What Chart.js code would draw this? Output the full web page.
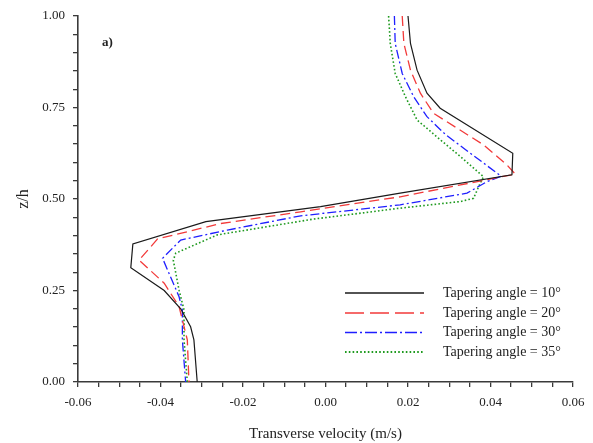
<!DOCTYPE html>
<html>
<head>
<meta charset="utf-8">
<script src="https://cdn.jsdelivr.net/npm/chart.js@4"></script>
<style>
  html, body { margin: 0; padding: 0; background: #fff; }
  #wrap { width: 593px; height: 443px; }
</style>
</head>
<body>
<div id="wrap"><canvas id="c" width="593" height="443"></canvas></div>
<script>
// Transverse velocity profiles over relative depth z/h for four tapering angles
const seriesNames = [
  'Tapering angle = 10°',
  'Tapering angle = 20°',
  'Tapering angle = 30°',
  'Tapering angle = 35°'
];

const z10 = [1.0, 0.925, 0.852, 0.789, 0.748, 0.625, 0.566, 0.516, 0.479, 0.438, 0.377, 0.312, 0.250, 0.200, 0.151, 0.115, 0.0];
const v10 = [0.0200, 0.0206, 0.0222, 0.0246, 0.0278, 0.0454, 0.0452, 0.0181, -0.0012, -0.0290, -0.0467, -0.0472, -0.0391, -0.0351, -0.0327, -0.0319, -0.0311];

const z20 = [1.0, 0.925, 0.852, 0.789, 0.734, 0.675, 0.648, 0.593, 0.568, 0.506, 0.465, 0.433, 0.391, 0.333, 0.270, 0.206, 0.115, 0.0];
const v20 = [0.0186, 0.0190, 0.0206, 0.0230, 0.0262, 0.0345, 0.0383, 0.0440, 0.0460, 0.0181, -0.0060, -0.0254, -0.0407, -0.0452, -0.0391, -0.0355, -0.0335, -0.0331];

const z30 = [1.0, 0.925, 0.843, 0.779, 0.725, 0.675, 0.562, 0.547, 0.516, 0.484, 0.454, 0.415, 0.388, 0.338, 0.233, 0.197, 0.115, 0.0];
const v30 = [0.0167, 0.0169, 0.0186, 0.0214, 0.0246, 0.0292, 0.0426, 0.0391, 0.0343, 0.0181, -0.0060, -0.0238, -0.0351, -0.0395, -0.0355, -0.0347, -0.0347, -0.0339];

const z35 = [1.0, 0.925, 0.843, 0.779, 0.716, 0.664, 0.616, 0.561, 0.543, 0.502, 0.493, 0.475, 0.452, 0.445, 0.402, 0.352, 0.333, 0.251, 0.197, 0.115, 0.0];
const v35 = [0.0153, 0.0157, 0.0169, 0.0194, 0.0222, 0.0276, 0.0327, 0.0383, 0.0375, 0.0359, 0.0327, 0.0181, 0.0020, -0.0030, -0.0262, -0.0363, -0.0369, -0.0355, -0.0343, -0.0343, -0.0335];

const xTickLabels = ['-0.06', '-0.04', '-0.02', '0.00', '0.02', '0.04', '0.06'];
const yTickLabels = ['0.00', '0.25', '0.50', '0.75', '1.00'];

const SERIF = '"Liberation Serif", "Times New Roman", serif';

const styles = [
  { color: '#1a1a1a', dash: [], width: 1.2, legendDash: [] },
  { color: '#f23a3a', dash: [10, 5], width: 1.3, legendDash: [19, 6] },
  { color: '#1f1fff', dash: [9, 3, 2, 3], width: 1.3, legendDash: [12, 3, 2, 3] },
  { color: '#1f9a1f', dash: [1.6, 2.2], width: 1.6, legendDash: [1.6, 2.2] }
];

const pairs = [[v10, z10], [v20, z20], [v30, z30], [v35, z35]];

const datasets = pairs.map(([v, z], i) => ({
  label: seriesNames[i],
  data: v.map((x, k) => ({ x: x, y: z[k] })),
  showLine: true,
  fill: false,
  tension: 0,
  pointRadius: 0,
  borderColor: styles[i].color,
  borderWidth: styles[i].width,
  borderDash: styles[i].dash
}));

// In-plot legend and panel letter
const annotate = {
  id: 'annotate',
  afterDraw(chart) {
    const { ctx, chartArea } = chart;
    ctx.save();
    ctx.fillStyle = '#222';
    ctx.font = 'bold 13px ' + SERIF;
    ctx.textBaseline = 'middle';
    ctx.textAlign = 'left';
    ctx.fillText('a)', chartArea.left + 24, chartArea.top + 27);

    const lx0 = chartArea.left + 267, lx1 = chartArea.left + 346;
    const tx = chartArea.left + 365;
    const rows = [277, 297, 316.5, 336];
    ctx.font = '14px ' + SERIF;
    seriesNames.forEach((name, i) => {
      const y = chartArea.top + rows[i];
      ctx.beginPath();
      ctx.setLineDash(styles[i].legendDash);
      ctx.strokeStyle = styles[i].color;
      ctx.lineWidth = styles[i].width + 0.2;
      ctx.moveTo(lx0, y);
      ctx.lineTo(lx1, y);
      ctx.stroke();
      ctx.setLineDash([]);
      ctx.fillStyle = '#222';
      ctx.fillText(name, tx, y);
    });
    ctx.restore();
  }
};

function near(a, b) { return Math.abs(a - b) < 1e-6; }

new Chart(document.getElementById('c'), {
  type: 'scatter',
  data: { datasets },
  plugins: [annotate],
  options: {
    responsive: false,
    animation: false,
    devicePixelRatio: 1,
    layout: { padding: { top: 16, right: 20, left: 0, bottom: 0 } },
    plugins: { legend: { display: false }, tooltip: { enabled: false } },
    scales: {
      x: {
        type: 'linear',
        min: -0.06,
        max: 0.06,
        afterFit(s) { s.height = 61; },
        border: { display: true, color: '#3a3a3a', width: 1.6 },
        grid: { drawOnChartArea: false, drawTicks: true, tickLength: 5, color: '#3a3a3a', lineWidth: 1.3 },
        ticks: {
          stepSize: 0.005,
          autoSkip: false,
          maxRotation: 0,
          padding: 8,
          color: '#222',
          font: { family: SERIF, size: 13 },
          callback(value) {
            const lab = xTickLabels.find(t => near(parseFloat(t), value));
            return lab === undefined ? '' : lab;
          }
        },
        title: {
          display: true,
          text: 'Transverse velocity (m/s)',
          color: '#222',
          font: { family: SERIF, size: 15 },
          padding: { top: 0, bottom: 0 }
        }
      },
      y: {
        type: 'linear',
        min: 0,
        max: 1,
        afterFit(s) { s.width = 78; },
        border: { display: true, color: '#3a3a3a', width: 1.6 },
        grid: { drawOnChartArea: false, drawTicks: true, tickLength: 5, color: '#3a3a3a', lineWidth: 1.3 },
        ticks: {
          stepSize: 0.05,
          autoSkip: false,
          padding: 8,
          color: '#222',
          font: { family: SERIF, size: 13 },
          callback(value) {
            const lab = yTickLabels.find(t => near(parseFloat(t), value));
            return lab === undefined ? '' : lab;
          }
        },
        title: {
          display: true,
          text: 'z/h',
          color: '#222',
          font: { family: SERIF, size: 16 },
          padding: { top: 14, bottom: 0 }
        }
      }
    }
  }
});
</script>
</body>
</html>
